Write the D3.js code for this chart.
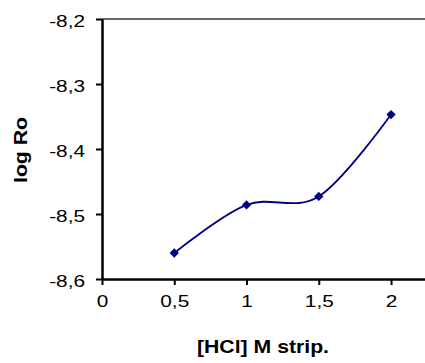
<!DOCTYPE html>
<html>
<head>
<meta charset="utf-8">
<script src="https://cdn.jsdelivr.net/npm/d3@7"></script>
<style>
  body { margin: 0; background: #fff; }
  text { font-family: "Liberation Sans", Arial, sans-serif; }
</style>
</head>
<body>
<svg id="chart"></svg>
<script>
// data
let hcl = [0.5, 1, 1.5, 2];
let logRo = [-8.56, -8.486, -8.473, -8.347];
let xTicks = [0, 0.5, 1, 1.5, 2];
let yTicks = [-8.6, -8.5, -8.4, -8.3, -8.2];

let width = 425;
let height = 363;
let plotL = 102, plotR = 425, plotT = 19, plotB = 279;

let svg = d3.select('#chart').attr('width', width).attr('height', height);

let xScale = d3.scaleLinear().domain([0, 2.235]).range([plotL, plotR]);
let yScale = d3.scaleLinear().domain([-8.6, -8.2]).range([plotB, plotT]);

// excel style: comma decimal, plain hyphen minus
let fmt = d => String(+d.toFixed(2)).replace('.', ',');

// top border of plot area
svg.append('line')
    .attr('x1', plotL).attr('x2', plotR)
    .attr('y1', plotT).attr('y2', plotT)
    .attr('stroke', '#333').attr('stroke-width', 1.5);

// axes
let xAxis = d3.axisBottom(xScale).tickValues(xTicks).tickFormat(fmt).tickSizeInner(6).tickSizeOuter(0).tickPadding(11);
let yAxis = d3.axisLeft(yScale).tickValues(yTicks).tickFormat(fmt).tickSizeInner(6).tickSizeOuter(0).tickPadding(11);

let gx = svg.append('g').attr('transform', 'translate(0,' + plotB + ')').call(xAxis);
let gy = svg.append('g').attr('transform', 'translate(' + plotL + ',0)').call(yAxis);

// stretch labels sideways like the original rendering
let sx = 1.3;
[gx, gy].forEach(g => {
    g.select('.domain').attr('stroke', '#000').attr('stroke-width', 2.5);
    g.selectAll('.tick line').attr('stroke', '#000').attr('stroke-width', 2);
    g.selectAll('.tick text')
        .attr('fill', '#000')
        .style('font-size', '16px')
        .each(function() {
            let t = d3.select(this);
            let x = +t.attr('x') || 0;
            t.attr('x', 0).attr('transform', 'translate(' + x + ',0) scale(' + sx + ',1)');
        });
});
gy.selectAll('.tick text').attr('dy', '0.45em');

// smoothed line (excel-like smoothing)
let pts = hcl.map((d, i) => [d, logRo[i]]);
let line = d3.line()
    .x(d => xScale(d[0]))
    .y(d => yScale(d[1]))
    .curve(d3.curveCardinal.tension(0));

svg.append('path')
    .datum(pts)
    .attr('d', line)
    .attr('fill', 'none')
    .attr('stroke', '#000080')
    .attr('stroke-width', 1.8);

// diamond markers
svg.selectAll('.mk')
    .data(pts)
    .enter().append('path')
    .attr('class', 'mk')
    .attr('d', d3.symbol().type(d3.symbolDiamond2).size(55))
    .attr('transform', d => 'translate(' + xScale(d[0]) + ',' + yScale(d[1]) + ')')
    .attr('fill', '#000080');

// axis titles
svg.append('text')
    .attr('transform', 'translate(263,353) scale(1.18,1)')
    .attr('text-anchor', 'middle')
    .style('font-size', '18px')
    .style('font-weight', 'bold')
    .text('[HCl] M strip.');

svg.append('text')
    .attr('transform', 'translate(27,' + ((plotT + plotB) / 2 + 1) + ') rotate(-90) scale(1.18,1)')
    .attr('text-anchor', 'middle')
    .style('font-size', '18px')
    .style('font-weight', 'bold')
    .text('log Ro');
</script>
</body>
</html>
